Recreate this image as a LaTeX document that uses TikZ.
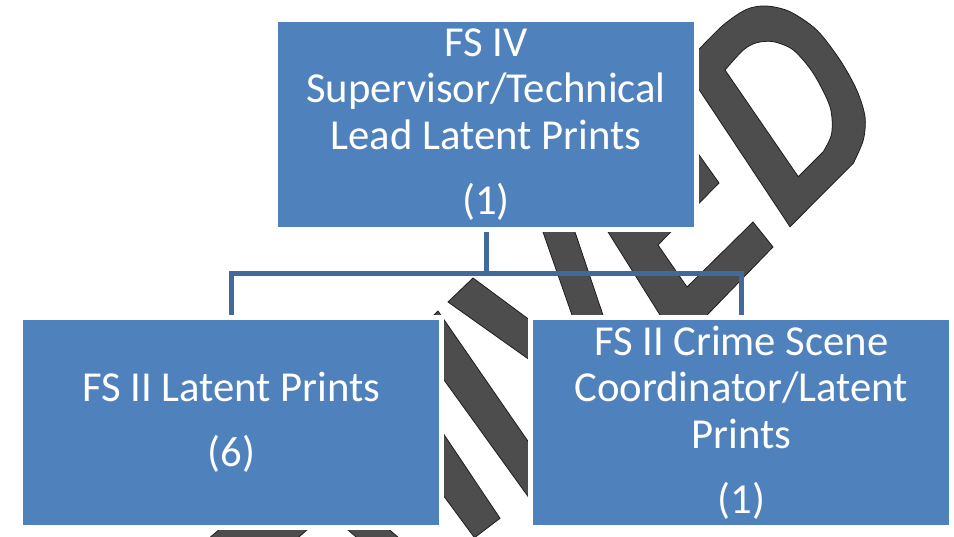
\documentclass[tikz,border=0pt]{standalone}
\usepackage{fontspec}
\setmainfont{Carlito}
\definecolor{boxblue}{RGB}{79,129,189}
\definecolor{linkblue}{RGB}{65,105,155}
\definecolor{wmfill}{RGB}{77,77,77}
\definecolor{wmline}{RGB}{30,30,30}
\begin{document}
\begin{tikzpicture}[x=1pt,y=-1pt,
  orgbox/.style={rectangle, fill=boxblue, draw=white, line width=5pt,
    minimum width=421pt, minimum height=210pt, inner sep=0pt,
    align=center, text=white, font=\fontsize{42.7}{46.3}\selectfont},
  link/.style={draw=linkblue, line width=5pt},
  wm/.style={fill=wmfill, draw=wmline, line width=0.8pt, line join=miter}]
\useasboundingbox (0,0) rectangle (954,536);
\clip (0,0) rectangle (954,536);
% watermark fragments
\filldraw[wm, even odd rule]
  (690,75) -- (698.3,50) -- plot[smooth] coordinates {(698.3,50) (723.3,25) (746.7,9.3) (766.7,6) (790,11.7) (816.7,30) (840,60) (856.7,90) (865,116.7) (863.3,140) (853.3,163.3)}
  -- (790,226.7) -- (698,88) -- cycle
  (725,70) -- plot[smooth] coordinates {(725,70) (743.3,50) (756.7,42.7) (773.3,41.7) (793.3,50) (813.3,73.3) (830,106.7) (831.7,133.3) (823.3,151.7)}
  -- (798.3,176.7) -- cycle;
\filldraw[wm] (588,200) -- (678.5,344.5) -- (773,247) -- (753,222) -- (687,287) -- (658,245)
  -- (719,183) -- (697,152) -- (636,214) -- (620,190) -- cycle;
\filldraw[wm] (531.8,200) -- (564.2,200) -- (618.1,360) -- (587.7,360) -- cycle;
\filldraw[wm] (448,302) -- (473,278) -- (560,342.4) -- (560,381.4) -- cycle;
\filldraw[wm] (438,311) -- (562.2,490.8) -- (540,513) -- (412.6,336.4) -- cycle;
\filldraw[wm] (400,368.7) -- (500,518.3) -- (474.5,537.7) -- (400,436.7) -- cycle;
\filldraw[wm] (236.1,515) -- (324.4,515) -- (289.5,545) -- (201.2,545) -- cycle;
\filldraw[wm] (330.8,515) -- (372.5,515) -- (407,545) -- (365.3,545) -- cycle;
% boxes
\node[orgbox] (top) at (486,124.5) {FS IV\\Supervisor/Technical\\Lead Latent Prints\\[18.7pt](1)};
\node[orgbox] (left) at (231.3,422.5) {FS II Latent Prints\\[18.7pt](6)};
\node[orgbox] (right) at (741.3,422.5) {FS II Crime Scene\\Coordinator/Latent\\Prints\\[18.7pt](1)};
% connectors
\draw[link] (top.south) -- ++(0,41.5) -| (left.north);
\draw[link] (top.south) -- ++(0,41.5) -| (right.north);
\end{tikzpicture}
\end{document}
